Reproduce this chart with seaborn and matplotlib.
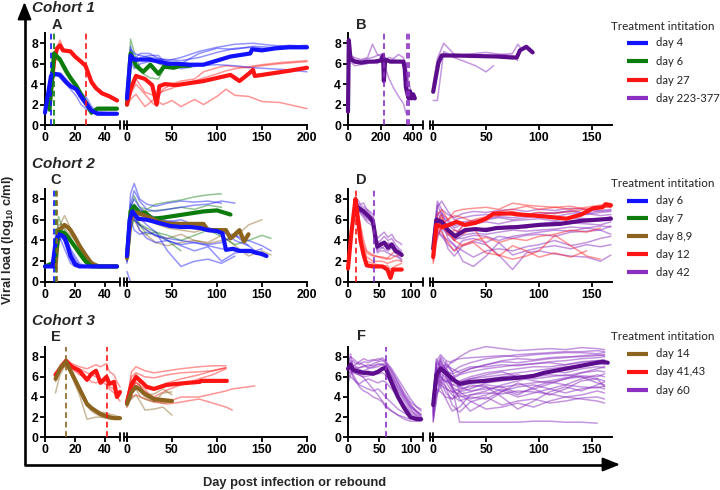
import numpy as np
import pandas as pd
import matplotlib
matplotlib.use("Agg")
import matplotlib.pyplot as plt
import seaborn as sns

nan = np.nan

# ---------------- DATA ----------------
# Panel A (Cohort 1) - infection phase
a0_blue_days = [0, 4, 7, 10, 14, 17, 21, 24, 28, 31, 35, 42, 48]
a0_blue_mean = [1.2, 4.8, 5.0, 4.9, 4.2, 3.8, 3.5, 2.8, 2.0, 1.4, 1.1, 1.1, 1.1]
a0_blue_thin = [[1.3, 5.2, 5.1, 4.6, 4.0, 3.5, 2.8, 2.0, 1.5, 1.2, 1.2, 1.2, 1.2],
                [1.2, 4.5, 4.8, 4.8, 4.3, 3.9, 3.6, 3.2, 2.6, 1.8, 1.3, 1.2, 1.2],
                [1.1, 4.6, 5.0, 5.1, 4.5, 4.0, 3.2, 2.5, 1.7, 1.3, 1.2, 1.2, 1.2]]
a0_green_days = [3, 6, 10, 14, 17, 21, 24, 28, 31, 35, 42, 48]
a0_green_mean = [1.5, 7.0, 6.4, 5.3, 4.6, 3.8, 3.0, 2.0, 1.2, 1.6, 1.6, 1.6]
a0_green_thin = [[1.5, 6.6, 6.2, 5.0, 4.4, 3.6, 2.8, 1.8, 1.4, 1.7, 1.7, 1.7],
                 [1.6, 7.2, 6.6, 5.6, 4.8, 4.0, 3.2, 2.2, 1.3, 1.5, 1.5, 1.5]]
a0_red_days = [3, 6, 8, 10, 12, 17, 20, 24, 27, 29, 31, 34, 38, 43, 48]
a0_red_mean = [2.0, 6.2, 7.5, 7.8, 7.3, 7.2, 6.7, 6.2, 5.8, 5.0, 4.2, 3.6, 3.1, 2.8, 2.4]
a0_red_thin = [[2.1, 6.0, 7.6, 8.3, 7.5, 7.1, 6.8, 6.3, 5.8, 5.0, 4.1, 3.5, 3.0, 2.7, 2.3],
               [1.8, 6.5, 7.3, 7.6, 7.2, 7.3, 6.6, 6.1, 5.7, 5.1, 4.3, 3.7, 3.2, 2.9, 2.5]]
a_treat_days = [4, 6, 27]

# Panel A - rebound phase
a1_blue_days = [0, 4, 8, 15, 25, 35, 45, 55, 70, 85, 100, 115, 130, 137, 139, 150, 165, 180, 200]
a1_blue_mean = [2.6, 6.8, 6.4, 6.4, 6.4, 6.2, 6.0, 6.0, 5.9, 5.9, 6.3, 6.7, 6.9, 7.0, 7.4, 7.3, 7.5, 7.6, 7.6]
a1_thin_days = [0, 4, 8, 15, 25, 35, 45, 60, 80, 100, 120, 140, 160, 180, 200]
a1_blue_thin = [[2.5, 7.7, 6.5, 7.0, 7.0, 6.5, 6.3, 6.6, 7.2, 7.6, 7.9, 8.0, 7.8, 7.7, 7.6],
                [2.8, 6.9, 6.0, 6.6, 6.8, 6.8, 5.8, 6.0, 7.0, 7.5, 7.4, 7.7, 7.6, 7.8, 7.7],
                [2.2, 6.3, 5.5, 6.0, 6.2, 6.4, 6.2, 5.5, 5.8, 5.9, 5.8, 5.6, 5.5, 5.4, 5.2],
                [3.0, 7.4, 7.0, 6.8, 6.6, 6.5, 6.4, 6.3, 6.6, 7.1, 7.5, 7.6, 7.4, 7.7, 7.8]]
a1_green_days = [0, 4, 10, 18, 26, 35, 41, 52, 60, 70]
a1_green_mean = [2.0, 7.0, 5.8, 5.2, 5.9, 5.0, 5.7, 5.6, 5.8, 5.8]
a1_green_thin = [[2.2, 8.4, 6.5, 5.0, 4.6, 4.5, 5.5, 6.0, 6.0, nan],
                 [1.9, 6.8, 6.3, 6.5, 6.6, 6.0, 5.8, 5.9, 5.7, 5.8]]
a1_red_days = [0, 4, 10, 20, 28, 33, 36, 42, 55, 70, 85, 100, 115, 125, 135, 140, 142, 150, 165, 180, 200]
a1_red_mean = [2.0, 3.5, 4.8, 4.5, 3.9, 2.0, 3.8, 4.0, 3.9, 4.1, 4.3, 4.6, 4.9, 4.3, 5.0, 5.4, 4.8, 4.9, 5.1, 5.3, 5.6]
a1_red_thin_days = [0, 5, 10, 20, 30, 40, 50, 60, 75, 85, 100, 110, 120, 135, 150, 170, 200]
a1_red_thin = [[2.0, 2.6, 3.0, 1.8, 2.5, 2.0, 2.4, 1.8, 2.5, 2.0, 2.8, 3.5, 2.9, 2.8, 2.3, 2.2, 1.6],
               [2.3, 3.5, 4.5, 3.2, 2.9, 3.3, 3.6, 4.0, 4.3, 4.6, 5.0, 5.3, 5.5, 5.7, 5.9, 6.1, 6.3],
               [2.1, 3.2, 4.0, 3.0, 2.0, 3.5, 4.0, 4.3, 4.5, 5.2, 5.6, 5.8, 5.7, 5.6, 5.8, 6.0, 6.2]]

# Panel B (Cohort 1, late treatment)
b0_days = [0, 5, 15, 40, 80, 120, 160, 200, 215, 220, 228, 260, 300, 340, 348, 355, 362, 372, 380, 390, 400, 410]
b0_mean = [1.3, 8.3, 6.5, 6.2, 6.1, 6.2, 6.2, 6.3, 6.8, 4.3, 6.4, 6.2, 6.2, 6.2, 5.5, 3.7, 3.2, 2.6, 3.3, 2.6, 3.0, 2.6]
b0_thin_days = [0, 5, 15, 40, 80, 120, 150, 180, 215, 225, 250, 280, 310, 340, 355, 370, 385, 400, 410]
b0_thin = [[1.5, 8.0, 6.8, 6.6, 6.4, 6.6, 7.9, 6.9, 6.6, 6.4, 6.6, 6.5, 6.9, 6.6, 5.8, 3.5, 3.0, 2.8, nan],
           [1.2, 7.6, 6.2, 5.8, 5.9, 6.0, 6.3, 6.0, 6.6, 5.8, 4.6, 3.6, 2.8, 2.1, 1.2, 1.1, nan, nan, nan],
           [1.4, 8.5, 6.9, 6.4, 6.3, 6.5, 6.6, 6.8, 7.0, 6.2, 6.3, 6.4, 6.2, 6.0, 5.8, 4.5, 3.3, 2.8, 2.5]]
b_treat_days = [223, 360, 377]
b1_days = [0, 5, 8, 20, 40, 60, 75, 79, 82, 88, 94]
b1_mean = [3.25, 6.1, 6.8, 6.8, 6.75, 6.7, 6.6, 6.6, 7.3, 7.65, 7.1]
b1_thin_days = [0, 4, 10, 20, 30, 40, 50, 57, 65, 75, 80, 83]
b1_thin = [[4.0, 6.5, 8.0, 6.9, 6.8, 6.7, 6.7, 6.8, 6.9, 7.0, 7.9, 7.5],
           [2.4, 2.4, 7.2, 6.6, 6.2, 5.8, 5.2, 5.8, nan, nan, nan, nan],
           [3.5, 5.5, 7.0, 6.6, 6.9, 7.0, 7.1, 7.0, 6.9, 6.8, 6.3, nan]]

# Panel C (Cohort 2) - infection phase
c0_days = [0, 5, 7, 9, 11, 13, 15, 17, 20, 23, 27, 31, 36, 42, 48]
c0_blue_mean = [1.5, 1.5, 3.8, 4.6, 4.5, 4.3, 3.5, 2.5, 1.7, 1.5, 1.5, 1.5, 1.5, 1.5, 1.5]
c0_green_mean = [1.5, 1.8, 2.5, 4.8, 4.8, 4.7, 4.4, 4.0, 3.4, 2.8, 2.0, 1.5, 1.5, 1.5, 1.5]
c0_brown_mean = [nan, nan, 1.5, 5.0, 5.2, 5.5, 5.3, 5.0, 4.3, 3.5, 2.6, 1.8, 1.5, 1.5, 1.5]
c0_blue_thin = [[1.5, 1.5, 4.5, 5.2, 4.6, 3.8, 3.0, 2.3, 1.5, 1.5, 1.5, 1.5, 1.5, 1.5, 1.5],
                [1.5, 1.6, 3.2, 4.0, 4.2, 4.0, 3.6, 3.0, 2.2, 1.5, 1.5, 1.5, 1.5, 1.5, 1.5],
                [1.5, 1.5, 2.8, 3.5, 4.8, 4.5, 4.0, 3.2, 2.5, 1.8, 1.5, 1.5, 1.5, 1.5, 1.5],
                [1.5, 1.5, 4.0, 4.3, 3.9, 3.2, 2.5, 1.8, 1.5, 1.5, 1.5, 1.5, 1.5, 1.5, 1.5],
                [1.5, 1.7, 3.6, 4.8, 5.0, 4.6, 3.8, 2.8, 2.0, 1.6, 1.5, 1.5, 1.5, 1.5, 1.5]]
c0_green_thin = [[1.5, 1.9, 3.0, 6.3, 5.5, 5.0, 4.5, 4.1, 3.6, 3.0, 2.2, 1.6, 1.5, 1.5, 1.5],
                 [1.5, 1.7, 2.2, 4.0, 4.5, 4.6, 4.3, 3.9, 3.2, 2.5, 1.8, 1.5, 1.5, 1.5, 1.5]]
c0_brown_thin = [[nan, nan, 1.5, 4.8, 5.8, 6.4, 5.8, 5.2, 4.4, 3.6, 2.8, 2.0, 1.5, 1.5, 1.5],
                 [nan, nan, 1.5, 5.5, 5.6, 5.2, 4.8, 4.5, 4.0, 3.3, 2.4, 1.7, 1.5, 1.5, 1.5]]
c_treat_days = [6, 7, 8]

# Panel C - rebound phase
c1_blue_days = [0, 3, 6, 12, 22, 35, 48, 60, 70, 81, 90, 100, 106, 110, 118, 125, 137, 144, 150, 155]
c1_blue_mean = [2.5, 6.0, 6.8, 6.1, 6.0, 5.7, 5.4, 5.3, 5.3, 5.2, 5.0, 4.9, 4.7, 3.1, 3.2, 3.0, 3.0, 2.8, 2.7, 2.5]
c1_green_days = [0, 4, 8, 14, 20, 28, 40, 55, 70, 85, 100, 115]
c1_green_mean = [2.4, 6.8, 7.3, 6.6, 6.7, 6.1, 6.2, 6.4, 6.6, 6.8, 6.9, 6.5]
c1_brown_days = [0, 4, 10, 20, 35, 50, 65, 85, 90, 100, 110, 115, 125, 130, 135]
c1_brown_mean = [2.3, 6.0, 6.7, 6.4, 5.8, 5.6, 5.6, 5.6, 5.0, 5.0, 5.0, 4.2, 5.0, 3.9, 4.6]
c1_thin_days = [0, 4, 8, 14, 22, 32, 45, 60, 75, 90, 105, 120, 135, 150, 160]
c1_blue_thin = [[3.0, 8.5, 9.5, 8.0, 7.5, 7.3, 7.6, 7.8, 7.7, 7.8, 7.6, nan, nan, nan, nan],
                [2.0, 7.5, 8.8, 7.8, 7.0, 6.8, 7.0, 7.2, 7.4, 7.5, 7.8, 7.6, nan, nan, nan],
                [2.5, 6.5, 7.0, 6.2, 5.5, 4.8, 3.0, 1.5, 2.0, 2.2, 1.8, 2.5, nan, nan, nan],
                [3.5, 7.0, 6.0, 5.5, 5.0, 4.5, 4.2, 4.0, 3.8, 3.5, 3.2, 3.0, 2.8, 3.2, nan],
                [2.8, 6.8, 7.5, 6.9, 6.6, 6.2, 5.9, 5.7, 5.4, 5.2, 4.8, 4.5, 4.0, 3.5, 3.0],
                [1.8, 5.5, 6.4, 5.0, 4.2, 3.8, 4.0, 3.6, 3.8, 3.6, 3.8, 4.5, 3.5, 2.5, nan],
                [1.0, 0.0, 0.0, 0.0, 0.0, 0.0, 0.0, 0.0, 0.0, 0.0, 0.0, 0.0, nan, nan, nan],
                [2.2, 7.2, 8.0, 7.2, 6.5, 6.0, 5.8, 6.0, 5.5, 5.2, 5.0, 4.0, 3.5, nan, nan],
                [3.2, 6.0, 5.0, 4.6, 4.8, 4.5, 4.0, 3.5, 3.0, 3.4, 2.0, 2.8, 3.0, nan, nan]]
c1_green_thin = [[2.2, 7.0, 8.3, 7.2, 7.0, 7.5, 7.7, 7.9, 8.2, 8.4, 8.5, nan, nan, nan, nan],
                 [2.0, 5.0, 6.0, 5.5, 4.6, 4.8, 4.5, 4.0, 4.5, 5.0, 4.4, 3.6, 4.0, 4.5, 4.2],
                 [2.6, 6.0, 6.6, 5.6, 5.2, 4.8, 4.0, 3.0, nan, nan, nan, nan, nan, nan, nan],
                 [2.4, 7.5, 7.2, 7.0, 6.8, 6.9, 7.0, 7.2, 7.0, 7.4, 7.2, nan, nan, nan, nan]]
c1_brown_thin = [[2.0, 6.0, 6.5, 5.5, 5.0, 4.4, 4.2, 4.6, 4.0, 3.7, 4.0, 4.3, 5.5, 6.0, nan],
                 [2.5, 5.5, 6.0, 5.0, 4.5, 3.8, 3.5, 3.8, 4.0, 3.8, 4.5, 3.5, 2.5, 3.0, 2.6],
                 [2.8, 6.5, 7.0, 6.8, 6.2, 5.6, 5.2, 5.0, 4.8, 5.2, nan, nan, nan, nan, nan]]

# Panel D (Cohort 2, later treatment)
d0_red_days = [0, 5, 12, 15, 20, 25, 30, 40, 55, 63, 68, 72, 78, 86]
d0_red_mean = [1.3, 4.5, 8.0, 6.5, 4.0, 2.6, 1.6, 1.5, 1.5, 1.2, 0.4, 1.2, 1.2, 1.2]
d0_red_thin = [[1.2, 4.8, 7.8, 6.8, 5.0, 3.5, 2.8, 2.5, 2.4, 2.3, 2.2, 2.4, 2.5, 2.8],
               [1.4, 4.2, 7.6, 6.0, 4.5, 3.2, 2.4, 2.0, 2.0, 1.8, 1.9, 2.0, 2.1, 2.0],
               [1.5, 5.0, 7.9, 6.4, 4.2, 2.8, 2.0, 1.8, 1.5, 1.6, 1.2, 1.4, 1.6, 1.8],
               [1.3, 4.5, 8.1, 7.0, 5.5, 4.0, 3.0, 2.6, 2.3, 2.2, 2.6, 2.8, 3.0, 2.6]]
d0_purple_days = [12, 16, 20, 25, 30, 35, 40, 44, 47, 52, 58, 64, 70, 76, 82, 86]
d0_purple_mean = [7.5, 7.2, 7.0, 6.8, 6.5, 6.2, 5.8, 4.2, 3.4, 3.6, 3.8, 3.3, 3.6, 3.0, 2.8, 2.6]
d0_purple_thin = [[7.8, 7.6, 7.4, 7.2, 7.0, 6.8, 6.5, 5.0, 4.2, 4.5, 4.8, 4.3, 4.6, 4.0, 3.8, 3.6],
                  [7.2, 7.0, 6.8, 6.5, 6.2, 6.0, 5.5, 4.0, 3.2, 3.4, 3.2, 3.0, 3.3, 2.8, 2.4, 2.2],
                  [8.0, 7.9, 7.5, 7.6, 7.0, 6.6, 6.0, 4.6, 3.8, 4.0, 4.4, 4.0, 4.2, 3.6, 3.2, 3.0],
                  [7.4, 7.2, 6.6, 6.2, 5.8, 5.6, 5.4, 3.8, 3.0, 3.2, 3.4, 3.8, 3.5, 3.2, 3.0, 2.6],
                  [7.6, 7.3, 7.2, 7.0, 6.8, 6.4, 6.2, 4.4, 3.6, 3.8, 3.6, 3.6, 3.8, 3.4, 2.9, 2.8],
                  [6.9, 6.8, 6.7, 6.4, 6.0, 5.9, 5.6, 3.6, 2.8, 3.0, 3.0, 2.8, 2.6, 2.5, 2.3, 2.0]]
d_treat_days = [12, 42]

d1_red_days = [0, 3, 8, 15, 22, 30, 40, 50, 57, 73, 82, 95, 107, 126, 140, 151, 160, 163, 168]
d1_red_mean = [2.4, 5.5, 5.3, 5.5, 5.8, 5.5, 5.7, 6.1, 6.6, 6.6, 6.5, 6.4, 6.3, 6.1, 6.5, 7.1, 7.2, 7.5, 7.4]
d1_purple_days = [0, 3, 8, 14, 21, 30, 40, 50, 60, 80, 100, 120, 140, 155, 168]
d1_purple_mean = [3.2, 6.0, 5.8, 5.0, 4.4, 5.0, 5.1, 5.0, 5.2, 5.3, 5.5, 5.6, 5.9, 6.0, 6.1]
d1_thin_days = [0, 4, 8, 14, 20, 28, 38, 50, 62, 75, 88, 100, 115, 130, 145, 158, 168]
d1_red_thin = [[2.0, 6.5, 7.0, 6.0, 6.8, 7.0, 7.1, 7.2, 7.0, 7.6, 7.4, 7.3, 7.2, 7.0, 7.2, 7.4, 7.3],
               [2.5, 5.0, 6.2, 5.0, 4.0, 5.5, 6.0, 6.3, 6.8, 7.0, 7.3, 7.0, 7.2, 7.3, 7.0, 7.3, 7.2],
               [1.8, 4.5, 5.2, 4.8, 4.0, 3.5, 3.8, 2.8, 2.6, 2.2, 2.5, 3.0, 4.5, 3.5, 2.5, 2.2, nan],
               [2.2, 5.8, 6.5, 4.5, 5.0, 4.6, 5.2, 3.6, 2.5, 3.5, 3.0, 2.4, 2.8, 2.4, 3.0, nan, nan],
               [3.0, 6.0, 5.6, 6.0, 6.4, 6.2, 5.8, 6.2, 6.4, 6.8, 6.5, 6.7, 6.6, 6.8, 7.0, 7.2, 7.2],
               [2.6, 5.2, 4.8, 3.8, 3.0, 3.6, 4.0, 4.3, 3.8, 4.2, 4.0, 4.4, 4.6, 5.0, 4.8, 5.2, nan]]
d1_purple_thin = [[3.5, 7.8, 7.0, 6.5, 6.2, 6.6, 6.8, 6.7, 6.9, 7.0, 6.8, 7.0, 6.9, 7.1, 7.0, 6.8, 6.9],
                  [4.0, 7.2, 7.8, 6.8, 6.0, 6.2, 6.4, 6.5, 6.4, 6.6, 6.5, 6.7, 6.6, 6.9, 6.6, 6.4, 6.5],
                  [3.0, 6.5, 6.8, 5.0, 4.5, 5.4, 5.6, 5.8, 5.6, 5.9, 6.0, 6.1, 5.9, 6.2, 6.1, 6.0, 6.3],
                  [2.8, 5.5, 6.0, 5.5, 5.0, 4.8, 5.0, 5.2, 5.3, 5.4, 5.2, 5.6, 5.8, 5.7, 5.6, 5.5, 5.8],
                  [3.3, 6.0, 5.2, 4.6, 4.0, 4.5, 4.7, 4.6, 4.8, 5.0, 4.9, 5.0, 5.1, 5.3, 5.2, 5.4, 5.3],
                  [3.6, 4.8, 4.4, 3.6, 3.0, 4.0, 4.2, 3.8, 4.4, 4.2, 4.5, 4.6, 4.4, 4.8, 4.9, 5.0, 4.6],
                  [2.5, 5.0, 4.5, 4.0, 3.5, 3.0, 2.4, 3.0, 3.2, 3.0, 3.4, 3.6, 4.0, 3.5, 3.8, 4.2, 4.4],
                  [3.0, 6.8, 5.8, 4.2, 3.6, 2.0, 1.5, 2.5, 3.8, 2.6, 3.0, 3.3, 3.5, 3.2, 3.6, 3.4, 3.6],
                  [4.2, 7.5, 6.4, 5.8, 5.2, 5.6, 5.8, 6.0, 6.2, 6.0, 6.2, 6.4, 6.3, 6.6, 6.5, 6.7, 6.8],
                  [3.8, 6.2, 5.0, 3.2, 2.5, 3.5, 3.9, 3.6, 2.6, 1.2, 2.8, 3.0, 2.7, 2.5, 2.4, 2.0, 2.6],
                  [3.1, 5.8, 6.6, 6.0, 5.4, 5.8, 5.9, 6.1, 6.3, 6.2, 6.4, 6.5, 6.7, 6.8, 6.6, 6.9, 7.0],
                  [2.9, 4.2, 5.5, 4.8, 4.2, 4.2, 4.5, 4.4, 4.0, 4.4, 4.6, 4.8, 5.0, 4.9, 5.2, 5.0, 5.4]]

# Panel E (Cohort 3)
e0_days = [7, 10, 14, 18, 23, 28, 31, 34, 37, 41, 43, 46, 48, 50]
e0_red_mean = [6.2, 6.8, 7.6, 7.0, 6.6, 5.7, 6.3, 6.6, 5.4, 6.0, 5.3, 5.5, 4.0, 4.5]
e0_red_thin = [[6.0, 6.9, 7.5, 7.3, 7.0, 6.8, 7.0, 7.2, 7.0, 7.3, 6.5, 6.2, 5.5, 5.0],
               [5.8, 6.6, 7.3, 6.8, 6.2, 5.9, 5.5, 5.4, 5.6, 5.2, 4.8, 4.4, 4.0, 3.6],
               [6.3, 7.0, 7.7, 7.1, 6.8, 6.4, 6.2, 6.0, 5.8, 5.5, 5.0, 4.8, 4.4, 4.2]]
e0_brown_mean = [5.8, 6.8, 7.5, 6.3, 4.8, 3.3, 2.9, 2.6, 2.3, 2.1, 2.0, 1.9, 1.9, 1.9]
e0_brown_thin = [[4.4, 6.2, 7.3, 6.0, 4.2, 1.8, 1.9, 2.0, 2.0, 1.9, 1.9, 1.9, 1.9, 1.9],
                 [6.0, 7.2, 7.7, 6.5, 5.0, 3.5, 3.0, 2.7, 2.5, 2.4, 2.3, 2.2, 2.1, 2.0],
                 [5.5, 6.6, 7.4, 6.1, 4.6, 3.1, 2.6, 2.3, 2.1, 1.9, 1.8, 1.8, 1.8, 1.8]]
e_treat_days = [14, 41]

e1_red_days = [0, 5, 10, 15, 22, 30, 44, 67, 81, 82, 111]
e1_red_mean = [3.5, 5.2, 6.0, 5.6, 5.0, 4.8, 5.2, 5.4, 5.5, 5.6, 5.6]
e1_brown_days = [0, 5, 10, 15, 20, 30, 40, 50]
e1_brown_mean = [3.3, 4.5, 5.0, 4.7, 4.3, 3.8, 3.7, 3.6]
e1_red_thin_days = [0, 5, 10, 20, 30, 45, 60, 80, 95, 110, 117, 142]
e1_red_thin = [[3.5, 6.5, 7.0, 6.6, 6.4, 6.6, 6.8, 7.0, 7.1, 7.1, nan, nan],
               [4.0, 6.0, 6.4, 6.0, 5.9, 6.2, 6.4, 6.5, 6.6, 6.9, nan, nan],
               [3.0, 4.5, 5.5, 4.5, 4.0, 4.7, 5.2, 5.8, 6.2, 6.8, nan, nan],
               [3.2, 4.0, 4.2, 3.8, 3.5, 3.3, 3.5, 3.8, 3.4, 3.0, 2.7, nan],
               [3.6, 5.0, 5.4, 4.8, 3.6, 3.5, 4.0, 4.0, 4.3, 4.6, 4.8, 5.1],
               [3.8, 5.6, 5.8, 5.2, 4.9, 5.4, 5.8, 6.2, 6.6, 6.9, nan, nan]]
e1_brown_thin = [[3.0, 4.0, 6.3, 5.0, 4.2, 4.3, 4.8, 4.2],
                 [3.5, 3.8, 4.2, 3.5, 2.7, 2.8, 3.0, 2.2],
                 [3.2, 4.8, 5.0, 4.5, 4.0, 3.6, 3.4, 3.5],
                 [3.4, 4.4, 4.8, 4.0, 3.8, 3.5, 4.4, 4.5]]

# Panel F (Cohort 3, later treatment)
f0_days = [0, 4, 8, 12, 18, 25, 32, 40, 48, 55, 60, 70, 80, 90, 100, 110, 117]
f0_mean = [6.8, 7.2, 6.7, 6.6, 6.5, 6.4, 6.4, 6.3, 6.5, 6.8, 6.9, 5.4, 4.0, 2.9, 2.0, 1.8, 1.8]
f0_thin = [[6.5, 8.3, 7.0, 7.2, 7.4, 7.2, 7.0, 7.3, 7.5, 7.6, 7.4, 6.5, 5.4, 4.2, 3.2, 2.6, 2.2],
           [7.0, 7.4, 7.6, 7.3, 7.5, 7.8, 7.6, 7.7, 7.6, 7.9, 7.6, 6.6, 5.5, 4.4, 3.5, 3.0, 2.8],
           [6.0, 6.5, 6.2, 5.8, 5.0, 4.6, 4.4, 4.0, 3.8, 3.5, 3.0, 2.6, 2.2, 1.8, 1.6, 1.6, 1.6],
           [6.6, 6.8, 6.0, 5.5, 5.2, 5.0, 4.8, 4.6, 4.8, 4.4, 4.0, 3.4, 2.8, 2.4, 2.0, 1.8, nan],
           [5.4, 6.2, 6.6, 6.4, 6.2, 5.9, 5.4, 4.8, 4.2, 3.6, 3.2, 2.6, 2.2, 2.0, 1.8, nan, nan],
           [7.2, 7.0, 6.8, 6.9, 6.7, 6.6, 6.8, 6.9, 7.0, 7.2, 7.0, 6.0, 5.0, 4.0, 3.0, 2.4, 2.0],
           [6.9, 7.6, 7.2, 7.0, 6.9, 7.0, 7.2, 7.1, 7.3, 7.2, 7.3, 6.3, 5.2, 4.1, 3.3, 2.5, 2.1],
           [6.3, 6.6, 6.4, 6.3, 6.2, 6.0, 6.1, 6.2, 6.3, 6.4, 6.2, 5.2, 4.2, 3.3, 2.6, 2.2, 1.9],
           [7.5, 8.0, 7.8, 7.6, 7.2, 7.5, 7.4, 7.6, 7.8, 7.7, 7.5, 6.8, 5.8, 4.8, 3.8, 3.0, 2.6],
           [6.7, 6.9, 6.5, 6.5, 6.3, 6.2, 6.3, 6.5, 6.6, 6.7, 6.8, 5.8, 4.6, 3.6, 2.8, 2.1, 1.8],
           [6.2, 6.0, 5.8, 5.6, 5.3, 5.6, 5.8, 5.6, 5.4, 5.6, 5.5, 4.8, 4.0, 3.1, 2.4, 2.0, 1.8],
           [7.0, 7.3, 7.0, 6.8, 6.9, 7.1, 6.9, 7.0, 7.2, 7.3, 7.1, 6.1, 4.8, 3.8, 3.0, 2.6, 2.3]]
f_treat_days = [60]

f1_days = [0, 3, 7, 12, 18, 25, 35, 50, 65, 80, 95, 105, 120, 135, 150, 160, 165]
f1_mean = [3.2, 6.2, 6.8, 6.4, 5.8, 5.3, 5.5, 5.6, 5.8, 5.9, 6.1, 6.4, 6.7, 7.0, 7.3, 7.5, 7.4]
f1_thin_days = [0, 3, 7, 12, 18, 25, 35, 50, 65, 80, 95, 110, 125, 140, 155, 162]
f1_thin = [[3.0, 7.5, 8.2, 7.6, 7.4, 8.0, 8.6, 9.0, 8.8, 8.6, 8.7, 8.8, 8.7, 8.9, 8.8, 8.7],
           [2.0, 6.0, 8.0, 7.2, 6.5, 7.0, 7.4, 7.8, 8.0, 8.2, 8.3, 8.4, 8.5, 8.5, 8.6, 8.5],
           [1.5, 5.0, 7.6, 6.5, 5.0, 1.5, 1.5, 1.5, 1.5, 1.5, 1.6, 1.6, 1.5, 1.5, 1.4, nan],
           [4.0, 7.8, 7.0, 6.8, 7.6, 7.8, 7.9, 8.0, 8.1, 8.0, 8.2, 8.3, 8.4, 8.4, 8.3, 8.4],
           [3.5, 6.8, 6.0, 5.5, 5.8, 6.2, 6.5, 6.8, 7.0, 7.2, 7.3, 7.5, 7.6, 7.8, 7.9, 8.0],
           [2.5, 7.0, 7.5, 6.0, 5.2, 5.5, 5.8, 6.0, 6.2, 6.4, 6.6, 6.8, 7.0, 7.1, 7.3, 7.2],
           [3.2, 5.5, 6.5, 6.8, 6.0, 5.0, 4.6, 4.8, 5.0, 5.2, 5.4, 5.6, 5.9, 6.1, 6.0, 6.3],
           [2.8, 4.2, 5.0, 7.5, 6.5, 4.5, 3.8, 4.2, 4.8, 4.2, 5.0, 5.5, 5.2, 5.8, 6.2, 6.0],
           [3.6, 6.2, 5.2, 4.8, 4.5, 4.3, 4.5, 5.0, 4.0, 2.8, 3.6, 4.5, 5.0, 4.6, 5.2, 5.5],
           [1.8, 3.5, 6.8, 7.0, 5.0, 3.8, 2.6, 3.5, 4.5, 5.4, 4.8, 4.2, 4.8, 5.6, 5.8, 5.0],
           [2.2, 6.5, 7.2, 6.0, 4.8, 4.0, 4.2, 4.4, 4.3, 4.6, 4.5, 4.3, 4.0, 4.2, 4.6, 4.4],
           [3.8, 7.0, 6.6, 6.2, 5.6, 5.4, 5.8, 6.2, 6.5, 6.0, 5.6, 5.4, 5.8, 6.4, 6.8, 7.0],
           [2.6, 5.8, 6.2, 5.0, 3.2, 2.5, 3.5, 4.0, 3.2, 3.6, 3.8, 3.4, 3.6, 3.9, 4.0, 3.8],
           [4.2, 6.6, 7.0, 7.2, 6.8, 6.4, 6.8, 7.2, 7.5, 7.4, 7.6, 7.8, 7.9, 8.1, 8.2, 8.1],
           [3.0, 5.2, 5.8, 5.5, 4.5, 4.8, 5.0, 5.2, 5.0, 4.4, 4.8, 5.3, 5.8, 6.0, 5.4, 5.2],
           [2.4, 6.0, 6.8, 6.2, 5.5, 5.6, 6.0, 6.4, 6.6, 6.8, 7.0, 7.0, 7.2, 7.4, 7.6, 7.7],
           [3.4, 4.8, 4.5, 4.0, 3.8, 4.2, 3.6, 2.8, 3.0, 3.4, 3.0, 3.6, 4.0, 3.8, 3.6, 3.4],
           [1.6, 4.0, 5.6, 5.0, 4.2, 3.6, 4.0, 3.8, 4.6, 5.0, 5.2, 4.8, 4.4, 4.8, 5.0, 4.8],
           [3.3, 7.2, 7.8, 6.6, 6.3, 6.6, 7.0, 7.0, 7.2, 7.1, 7.3, 7.4, 7.2, 7.5, 7.6, 7.6],
           [2.9, 5.6, 5.0, 3.8, 2.6, 3.0, 4.2, 4.6, 5.2, 5.6, 6.0, 6.2, 6.1, 6.4, 6.6, 6.5],
           [3.7, 6.4, 6.0, 5.6, 5.2, 5.0, 5.4, 5.8, 6.0, 6.2, 5.8, 6.0, 6.2, 6.0, 5.8, 5.6],
           [2.1, 6.8, 5.6, 4.4, 3.8, 4.6, 5.2, 5.0, 4.6, 4.0, 4.4, 4.8, 5.2, 5.0, 4.9, 5.1],
           [4.0, 7.4, 7.0, 6.4, 6.0, 6.3, 6.8, 7.2, 7.6, 7.8, 7.7, 7.9, 8.0, 8.0, 8.1, 8.2],
           [3.1, 5.4, 6.4, 5.8, 5.0, 4.5, 4.8, 5.4, 5.6, 5.8, 6.2, 6.6, 6.4, 6.8, 7.0, 6.9]]

legend_titles = ["Treatment intitation"] * 3
legend1_labels = ["day 4", "day 6", "day 27", "day 223-377"]
legend2_labels = ["day 6", "day 7", "day 8,9", "day 12", "day 42"]
legend3_labels = ["day 14", "day 41,43", "day 60"]

# ---------------- STYLE ----------------
BLUE = "#1212ff"
GREEN = "#0c7c0c"
RED = "#ff1414"
PURPLE = "#8a2fc0"
PURPLE_DK = "#5c0d8c"
BROWN = "#8c6420"

sns.set_theme(style="ticks")
plt.rcParams["font.family"] = ["Liberation Sans", "DejaVu Sans"]
plt.rcParams["mathtext.fontset"] = "custom"
plt.rcParams["mathtext.rm"] = "Liberation Sans"
plt.rcParams["mathtext.bf"] = "Liberation Sans:bold"

W, H = 720, 490
fig = plt.figure(figsize=(7.2, 4.9), dpi=100)
fig.patch.set_facecolor("white")


def px_axes(l, r, b, t):
    return fig.add_axes([l / W, 1 - b / H, (r - l) / W, (b - t) / H])


def draw(ax, days, lines, color, lw, alpha, z):
    rows = []
    for i, vals in enumerate(lines):
        for d, v in zip(days, vals):
            if not np.isnan(v):
                rows.append((i, d, v))
    df = pd.DataFrame(rows, columns=["uid", "day", "vl"])
    sns.lineplot(data=df, x="day", y="vl", units="uid", estimator=None,
                 color=color, lw=lw, alpha=alpha, ax=ax, legend=False,
                 sort=False, clip_on=False, zorder=z)


def thin(ax, days, lines, color, alpha=0.45):
    draw(ax, days, lines, color, 1.1, alpha, 2)


def thick(ax, days, mean, color):
    draw(ax, days, [mean], color, 3.0, 1.0, 5)


def style(ax, xlim, xticks, left):
    ax.set_xlim(*xlim)
    ax.set_ylim(0, 9)
    ax.set_xticks(xticks)
    ax.set_xticklabels([str(t) for t in xticks])
    ax.spines["top"].set_visible(False)
    ax.spines["right"].set_visible(False)
    ax.spines["bottom"].set_linewidth(1.4)
    ax.spines["bottom"].set_color("black")
    if left:
        ax.spines["left"].set_linewidth(1.4)
        ax.spines["left"].set_color("black")
        ax.set_yticks([0, 2, 4, 6, 8])
        ax.set_yticklabels(["0", "2", "4", "6", "8"])
        ax.plot([1, 1], [-0.045, 0.045], transform=ax.transAxes, color="black",
                lw=1.3, clip_on=False)
    else:
        ax.spines["left"].set_visible(False)
        ax.set_yticks([])
        for xf in (0.0, 0.014):
            ax.plot([xf, xf], [-0.045, 0.045], transform=ax.transAxes, color="black",
                    lw=1.3, clip_on=False)
    ax.tick_params(direction="out", length=3.5, width=1.3, labelsize=8.8, pad=1.5,
                   colors="black")
    for lab in ax.get_xticklabels() + ax.get_yticklabels():
        lab.set_fontweight("bold")
    ax.set_xlabel("")
    ax.set_ylabel("")
    ax.patch.set_alpha(0)


def vdash(ax, x, color):
    ax.axvline(x, ymin=0, ymax=1, color=color, lw=1.2, ls=(0, (3.5, 2.2)), zorder=6)


rows_px = [(125, 33), (282, 188.6), (437.3, 346.6)]
L1 = (45, 120)
R1 = (124, 307)
L2 = (348, 423)
R2 = (430, 612)
xl_L1, xl_R1, xl_L2, xl_R2 = (0, 50), (-3.3, 200), (0, 120), (-3, 169)
tk_L1, tk_R1, tk_L2, tk_R2 = [0, 20, 40], [0, 50, 100, 150, 200], [0, 50, 100], [0, 50, 100, 150]

# ---------- Row 1 ----------
b, t = rows_px[0]
ax = px_axes(*L1, b, t)
thin(ax, a0_red_days, a0_red_thin, RED)
thin(ax, a0_green_days, a0_green_thin, GREEN)
thin(ax, a0_blue_days, a0_blue_thin, BLUE)
thick(ax, a0_red_days, a0_red_mean, RED)
thick(ax, a0_green_days, a0_green_mean, GREEN)
thick(ax, a0_blue_days, a0_blue_mean, BLUE)
for d, c in zip(a_treat_days, [BLUE, GREEN, RED]):
    vdash(ax, d, c)
style(ax, xl_L1, tk_L1, True)

ax = px_axes(*R1, b, t)
thin(ax, a1_red_thin_days, a1_red_thin, RED)
thin(ax, a1_green_days, a1_green_thin, GREEN)
thin(ax, a1_thin_days, a1_blue_thin, BLUE)
thick(ax, a1_green_days, a1_green_mean, GREEN)
thick(ax, a1_red_days, a1_red_mean, RED)
thick(ax, a1_blue_days, a1_blue_mean, BLUE)
style(ax, xl_R1, tk_R1, False)

ax = px_axes(*L2, b, t)
thin(ax, b0_thin_days, b0_thin, PURPLE, 0.5)
thick(ax, b0_days, b0_mean, PURPLE_DK)
for d in b_treat_days:
    vdash(ax, d, PURPLE)
style(ax, (0, 460), [0, 200, 400], True)

ax = px_axes(*R2, b, t)
thin(ax, b1_thin_days, b1_thin, PURPLE, 0.5)
thick(ax, b1_days, b1_mean, PURPLE_DK)
style(ax, xl_R2, tk_R2, False)

# ---------- Row 2 ----------
b, t = rows_px[1]
ax = px_axes(*L1, b, t)
thin(ax, c0_days, c0_brown_thin, BROWN)
thin(ax, c0_days, c0_green_thin, GREEN)
thin(ax, c0_days, c0_blue_thin, BLUE)
thick(ax, c0_days, c0_brown_mean, BROWN)
thick(ax, c0_days, c0_green_mean, GREEN)
thick(ax, c0_days, c0_blue_mean, BLUE)
for d, c in zip(c_treat_days, [BLUE, GREEN, BROWN]):
    vdash(ax, d, c)
style(ax, xl_L1, tk_L1, True)

ax = px_axes(*R1, b, t)
thin(ax, c1_thin_days, c1_brown_thin, BROWN)
thin(ax, c1_thin_days, c1_green_thin, GREEN)
thin(ax, c1_thin_days, c1_blue_thin, BLUE)
thick(ax, c1_green_days, c1_green_mean, GREEN)
thick(ax, c1_brown_days, c1_brown_mean, BROWN)
thick(ax, c1_blue_days, c1_blue_mean, BLUE)
style(ax, xl_R1, tk_R1, False)

ax = px_axes(*L2, b, t)
thin(ax, d0_purple_days, d0_purple_thin, PURPLE, 0.5)
thin(ax, d0_red_days, d0_red_thin, RED)
thick(ax, d0_purple_days, d0_purple_mean, PURPLE_DK)
thick(ax, d0_red_days, d0_red_mean, RED)
for d, c in zip(d_treat_days, [RED, PURPLE]):
    vdash(ax, d, c)
style(ax, xl_L2, tk_L2, True)

ax = px_axes(*R2, b, t)
thin(ax, d1_thin_days, d1_purple_thin, PURPLE, 0.5)
thin(ax, d1_thin_days, d1_red_thin, RED)
thick(ax, d1_purple_days, d1_purple_mean, PURPLE_DK)
thick(ax, d1_red_days, d1_red_mean, RED)
style(ax, xl_R2, tk_R2, False)

# ---------- Row 3 ----------
b, t = rows_px[2]
ax = px_axes(*L1, b, t)
thin(ax, e0_days, e0_red_thin, RED)
thin(ax, e0_days, e0_brown_thin, BROWN)
thick(ax, e0_days, e0_red_mean, RED)
thick(ax, e0_days, e0_brown_mean, BROWN)
for d, c in zip(e_treat_days, [BROWN, RED]):
    vdash(ax, d, c)
style(ax, xl_L1, tk_L1, True)

ax = px_axes(*R1, b, t)
thin(ax, e1_red_thin_days, e1_red_thin, RED)
thin(ax, e1_brown_days, e1_brown_thin, BROWN)
thick(ax, e1_red_days, e1_red_mean, RED)
thick(ax, e1_brown_days, e1_brown_mean, BROWN)
style(ax, xl_R1, tk_R1, False)

ax = px_axes(*L2, b, t)
thin(ax, f0_days, f0_thin, PURPLE, 0.5)
thick(ax, f0_days, f0_mean, PURPLE_DK)
for d in f_treat_days:
    vdash(ax, d, PURPLE)
style(ax, xl_L2, tk_L2, True)

ax = px_axes(*R2, b, t)
thin(ax, f1_thin_days, f1_thin, PURPLE, 0.5)
thick(ax, f1_days, f1_mean, PURPLE_DK)
style(ax, xl_R2, tk_R2, False)

# ---------- Overlay: frame, labels, legends ----------
ov = fig.add_axes([0, 0, 1, 1])
ov.set_xlim(0, W)
ov.set_ylim(H, 0)
ov.axis("off")
ov.patch.set_alpha(0)

ov.plot([24.5, 24.5], [464.5, 14], color="black", lw=1.9, solid_capstyle="butt")
ov.plot([23.5, 606], [464.5, 464.5], color="black", lw=1.9, solid_capstyle="butt")
ov.annotate("", xy=(24.5, 2), xytext=(24.5, 16),
            arrowprops=dict(arrowstyle="-|>,head_length=0.75,head_width=0.3",
                            color="black", lw=1.5, mutation_scale=14, shrinkA=0, shrinkB=0))
ov.annotate("", xy=(620, 464.5), xytext=(604, 464.5),
            arrowprops=dict(arrowstyle="-|>,head_length=0.75,head_width=0.3",
                            color="black", lw=1.5, mutation_scale=14, shrinkA=0, shrinkB=0))

ov.text(8, 240, r"Viral load (log$_{\mathbf{10}}$ c/ml)", rotation=90, ha="center",
        va="center", fontsize=9.3, fontweight="bold")
ov.text(295, 483, "Day post infection or rebound", ha="center", va="center",
        fontsize=9.3, fontweight="bold")

for txt, y in [("Cohort 1", 8), ("Cohort 2", 164), ("Cohort 3", 321)]:
    ov.text(32, y, txt, ha="left", va="center", fontsize=11, fontweight="bold",
            fontstyle="italic")
for txt, x, y in [("A", 57, 25), ("C", 56, 180), ("E", 56, 337),
                  ("B", 361, 25), ("D", 361, 180), ("F", 361, 336)]:
    ov.text(x, y, txt, ha="center", va="center", fontsize=10.5, fontweight="bold")

legend_specs = [
    (26.7, legend1_labels, [BLUE, GREEN, RED, PURPLE], 43, 18.5),
    (183.3, legend2_labels, [BLUE, GREEN, BROWN, RED, PURPLE], 200.5, 17.9),
    (336.7, legend3_labels, [BROWN, RED, PURPLE], 353.5, 18.3),
]
for (ty, labels, colors, y0, dy), title in zip(legend_specs, legend_titles):
    ov.text(611, ty, title, ha="left", va="center", fontsize=8.4,
            family=["Lato", "DejaVu Sans"], color="#222222")
    for i, (lab, c) in enumerate(zip(labels, colors)):
        y = y0 + i * dy
        ov.plot([627, 648], [y, y], color=c, lw=3.0, solid_capstyle="butt")
        ov.text(656, y, lab, ha="left", va="center", fontsize=8.1,
                family=["Lato", "DejaVu Sans"], color="#222222")

fig.savefig("out.png", dpi=100, facecolor="white")
